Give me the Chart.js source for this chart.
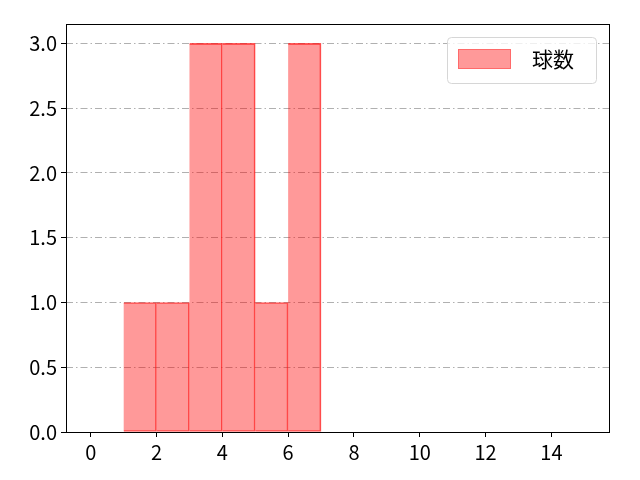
<!DOCTYPE html>
<html>
<head>
<meta charset="utf-8">
<script src="https://cdn.jsdelivr.net/npm/chart.js@4"></script>
<style>
  html, body { margin: 0; padding: 0; background: #fff; }
  #wrap { width: 640px; height: 480px; }
</style>
</head>
<body>
<div id="wrap"><canvas id="histChart" width="640" height="480"></canvas></div>
<script>
// histogram data
const binStarts = [1, 2, 3, 4, 5, 6];
const counts = [1, 1, 3, 3, 1, 3];
const seriesLabel = "球数";
const xTicks = [0, 2, 4, 6, 8, 10, 12, 14];
const yTicks = [0, 0.5, 1.0, 1.5, 2.0, 2.5, 3.0];

const FONT = "'Noto Sans CJK JP', 'Noto Sans', sans-serif";

// legend box drawn inside the plot (matplotlib style)
const innerLegend = {
  id: "innerLegend",
  afterDraw(chart) {
    const ctx = chart.ctx;
    const ds = chart.data.datasets[0];
    const x = 447, y = 37, w = 149, h = 46;
    ctx.save();
    ctx.fillStyle = "rgba(255,255,255,0.8)";
    ctx.strokeStyle = "#d6d6d6";
    ctx.lineWidth = 1;
    ctx.beginPath();
    ctx.roundRect(x + 0.5, y + 0.5, w, h, 4);
    ctx.fill();
    ctx.stroke();
    ctx.fillStyle = ds.backgroundColor;
    ctx.fillRect(458, 49, 53, 20);
    ctx.strokeStyle = "rgba(255,60,60,0.5)";
    ctx.strokeRect(458.5, 49.5, 52, 19);
    ctx.fillStyle = "#000";
    ctx.font = "21px " + FONT;
    ctx.textBaseline = "middle";
    ctx.fillText(ds.label, 532, 59);
    ctx.restore();
  }
};

// full black frame around the plot area
const frame = {
  id: "frame",
  afterDatasetsDraw(chart) {
    const a = chart.chartArea;
    const ctx = chart.ctx;
    ctx.save();
    ctx.strokeStyle = "#000";
    ctx.lineWidth = 1;
    ctx.strokeRect(Math.round(a.left) + 0.5, Math.round(a.top) + 0.5,
                   Math.round(a.right - a.left), Math.round(a.bottom - a.top));
    ctx.restore();
  }
};

new Chart(document.getElementById("histChart"), {
  type: "bar",
  data: {
    datasets: [{
      label: seriesLabel,
      data: binStarts.map((b, i) => ({ x: b + 0.5, y: counts[i] })),
      backgroundColor: "rgba(255,0,0,0.4)",
      borderColor: "rgba(255,20,20,0.7)",
      borderWidth: 1,
      borderSkipped: "left",
      barPercentage: 1,
      categoryPercentage: 1
    }]
  },
  options: {
    responsive: false,
    animation: false,
    layout: { padding: { left: 0, right: 31, top: 24, bottom: 0 } },
    plugins: {
      legend: { display: false },
      tooltip: { enabled: false }
    },
    scales: {
      x: {
        type: "linear",
        offset: false,
        min: -0.75,
        max: 15.75,
        afterBuildTicks: s => { s.ticks = xTicks.map(v => ({ value: v })); },
        afterFit: s => { s.height = 48; },
        grid: { display: true, offset: false, drawOnChartArea: false, tickLength: 5, tickColor: "#000" },
        border: { display: false },
        ticks: {
          color: "#000",
          font: { family: FONT, size: 20 },
          padding: 3,
          maxRotation: 0,
          autoSkip: false
        }
      },
      y: {
        min: 0,
        max: 3.15,
        afterBuildTicks: s => { s.ticks = yTicks.map(v => ({ value: v })); },
        afterFit: s => { s.width = 66; },
        grid: {
          color: "#b0b0b0",
          lineWidth: 1,
          tickLength: 5,
          tickColor: "#000",
          tickBorderDash: []
        },
        border: { display: false, dash: [7, 3, 1.5, 3] },
        ticks: {
          color: "#000",
          font: { family: FONT, size: 20 },
          padding: 4,
          autoSkip: false,
          callback: v => v.toFixed(1)
        }
      }
    }
  },
  plugins: [frame, innerLegend]
});
</script>
</body>
</html>
